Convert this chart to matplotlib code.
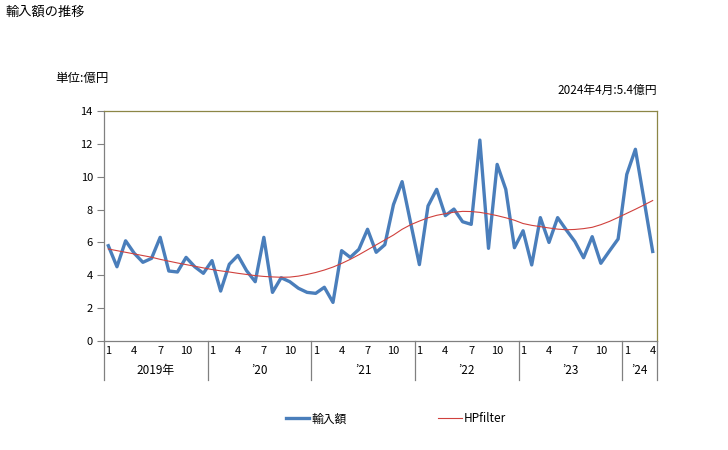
import matplotlib
matplotlib.use("Agg")
import matplotlib.pyplot as plt
import matplotlib.transforms as mtransforms

plt.rcParams['font.family'] = ['Noto Sans CJK JP', 'DejaVu Sans']

# ---- data (Jan 2019 .. Apr 2024, 億円) ----
imports = [5.8, 4.52, 6.1, 5.34, 4.79, 5.03, 6.31, 4.26, 4.2, 5.09, 4.52, 4.12,
           4.89, 3.04, 4.67, 5.21, 4.28, 3.61, 6.31, 2.96, 3.85, 3.61, 3.21, 2.96,
           2.9, 3.27, 2.35, 5.5, 5.09, 5.58, 6.8, 5.4, 5.86, 8.3, 9.7, 7.16,
           4.65, 8.22, 9.23, 7.63, 8.03, 7.26, 7.1, 12.23, 5.64, 10.75, 9.23, 5.68,
           6.71, 4.63, 7.51, 6.0, 7.51, 6.76, 6.05, 5.07, 6.35, 4.73, 5.48, 6.21,
           10.14, 11.67, 8.58, 5.45]
hp_filter = [5.6, 5.5, 5.4, 5.3, 5.2, 5.1, 4.97, 4.86, 4.75, 4.65, 4.55, 4.45,
             4.35, 4.27, 4.2, 4.12, 4.05, 3.98, 3.93, 3.9, 3.88, 3.89, 3.95, 4.05,
             4.17, 4.32, 4.5, 4.72, 4.97, 5.25, 5.55, 5.85, 6.15, 6.45, 6.8, 7.08,
             7.3, 7.5, 7.65, 7.75, 7.84, 7.89, 7.88, 7.83, 7.74, 7.63, 7.5, 7.35,
             7.15, 7.04, 6.96, 6.88, 6.81, 6.77, 6.79, 6.84, 6.92, 7.08, 7.28, 7.52,
             7.77, 8.02, 8.28, 8.55]
month_ticks = ['1', '4', '7', '10']
year_labels = ['2019年', '’20', '’21', '’22', '’23', '’24']
months_per_year = [12, 12, 12, 12, 12, 4]
y_ticks = [0, 2, 4, 6, 8, 10, 12, 14]

fig = plt.figure(figsize=(7.28, 4.5), dpi=100)
ax = fig.add_axes([104/728, 1-341/450, (657-104)/728, 230/450])

x = list(range(len(imports)))
blue = '#4A7EBB'
red = '#D0413D'
ax.plot(x, imports, color=blue, lw=2.4, label='輸入額', solid_joinstyle='round', zorder=3)
ax.plot(x, hp_filter, color=red, lw=0.8, label='HPfilter', zorder=4)

ax.set_xlim(-0.5, len(imports) - 0.5)
ax.set_ylim(0, 14)
ax.set_yticks(y_ticks)
ax.tick_params(axis='y', direction='out', length=5, width=0.8, color='#808080',
               labelsize=8, pad=3)

# month tick labels
xt, xl = [], []
start = 0
for n in months_per_year:
    for m in month_ticks:
        mi = int(m) - 1
        if mi < n:
            xt.append(start + mi)
            xl.append(m)
    start += n
ax.set_xticks(xt)
ax.set_xticklabels(xl)
ax.tick_params(axis='x', length=0, labelsize=8, pad=3.5)

for s in ['left', 'bottom']:
    ax.spines[s].set_color('#808080')
    ax.spines[s].set_linewidth(0.9)
for s in ['top', 'right']:
    ax.spines[s].set_color('#8C8646')
    ax.spines[s].set_linewidth(0.9)

trans = mtransforms.blended_transform_factory(ax.transData, ax.transAxes)
start = 0
bounds = [-0.5]
for lab, n in zip(year_labels, months_per_year):
    ax.text(start + (n - 1) / 2, -0.13, lab, transform=trans, ha='center', va='center',
            fontsize=8.5)
    start += n
    bounds.append(start - 0.5)
for b in bounds:
    ax.plot([b, b], [0, -0.17], transform=trans, color='#808080', lw=0.9, clip_on=False)

fig.text(5/728, 1-12/450, '輸入額の推移', ha='left', va='center', fontsize=9.5)
fig.text(55/728, 1-78/450, '単位:億円', ha='left', va='center', fontsize=9)
fig.text(657/728, 1-90/450, '2024年4月:5.4億円', ha='right', va='center', fontsize=8.5)

leg = fig.legend(loc='center', bbox_to_anchor=(396/728, 1-419/450), ncol=2, frameon=False,
                 fontsize=8.5, handlelength=2.0, columnspacing=7.7, handletextpad=0.2)

fig.savefig('out.png', dpi=100)
